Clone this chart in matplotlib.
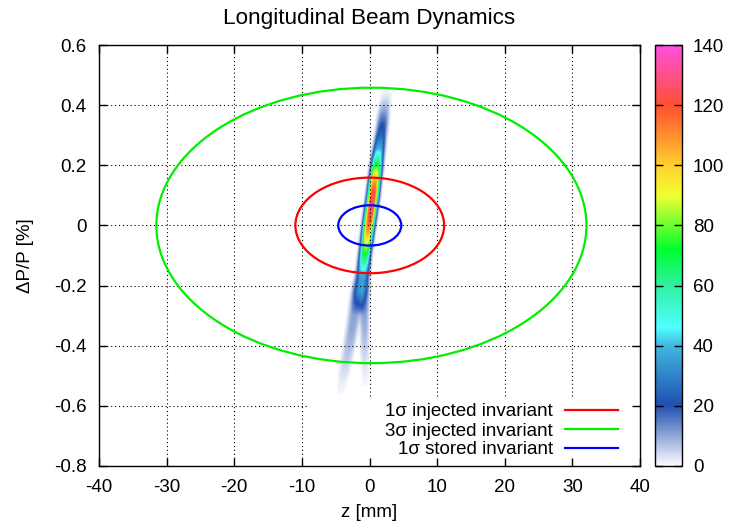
import numpy as np
import matplotlib
matplotlib.use("Agg")
import matplotlib.pyplot as plt
from matplotlib.patches import Ellipse, Rectangle
from matplotlib.colors import LinearSegmentedColormap
from matplotlib.ticker import FuncFormatter

plt.rcParams['font.family'] = ['Liberation Sans', 'DejaVu Sans']
plt.rcParams['font.size'] = 13.5
plt.rcParams['axes.unicode_minus'] = False

# invariant ellipses: (centre z [mm], half width z [mm], half height dP/P [%])
inv_labels = ['1\u03c3 injected invariant', '3\u03c3 injected invariant', '1\u03c3 stored invariant']
inv_colors = ['#ff0000', '#00ee00', '#0000ff']
inv_z0 = [0.04, 0.28, 0.04]
inv_a = [11.0, 31.8, 4.66]
inv_b = [0.159, 0.458, 0.067]

main_dp = [0.46, 0.42, 0.38, 0.34, 0.30, 0.26, 0.22, 0.18, 0.14, 0.10, 0.06, 0.02,
           -0.02, -0.06, -0.10, -0.14, -0.18, -0.22, -0.26, -0.30]
main_z = [2.6, 2.4, 2.15, 1.95, 1.7, 1.45, 1.2, 0.98, 0.75, 0.55, 0.3, 0.05,
          -0.2, -0.42, -0.65, -0.85, -1.05, -1.25, -1.45, -1.6]
main_peak = [0, 4, 11, 19, 25, 38, 60, 90, 112, 124, 126, 120,
             108, 88, 70, 50, 30, 22, 10, 0]
main_hw = [0.8, 0.8, 0.8, 0.8, 0.8, 0.8, 0.8, 0.8, 0.8, 0.8, 0.8, 0.8,
           0.8, 0.8, 0.8, 0.85, 0.95, 1.05, 1.1, 1.1]

left_dp = [-0.16, -0.22, -0.28, -0.34, -0.40, -0.46, -0.52, -0.58]
left_z = [-1.3, -1.65, -2.05, -2.5, -2.95, -3.45, -3.95, -4.4]
left_peak = [0, 10, 11, 10, 8, 5, 2, 0]
left_hw = [0.9, 0.9, 0.9, 0.85, 0.8, 0.8, 0.75, 0.7]

right_dp = [-0.16, -0.22, -0.28, -0.34, -0.40, -0.46, -0.52, -0.56]
right_z = [-0.7, -0.72, -0.72, -0.7, -0.68, -0.64, -0.6, -0.58]
right_peak = [0, 8, 11, 9, 6, 3, 1, 0]
right_hw = [0.7, 0.7, 0.65, 0.6, 0.6, 0.6, 0.6, 0.6]

cb_ticks = [0, 20, 40, 60, 80, 100, 120, 140]

# colour palette
pal_pos = [0.0, 20/140, 40/140, 46/140, 60/140, 72/140, 90/140, 100/140, 120/140, 1.0]
pal_col = ['#fbfbff', '#1f4fb0', '#40b8e0', '#50ffff', '#30f0a0', '#00ff30',
           '#f0ff30', '#ffd030', '#ff5030', '#ff50e0']
cmap = LinearSegmentedColormap.from_list('beam', list(zip(pal_pos, pal_col)))
cmap.set_bad((1, 1, 1, 0))

# density grid
zz = np.linspace(-8, 6, 561)
pp = np.linspace(-0.7, 0.55, 313)
Z, P = np.meshgrid(zz, pp)
dens = np.zeros_like(Z)
for bdp, bz, bpk, bhw in [(main_dp, main_z, main_peak, main_hw),
                          (left_dp, left_z, left_peak, left_hw),
                          (right_dp, right_z, right_peak, right_hw)]:
    xp = np.array(bdp)[::-1]
    zc = np.interp(P, xp, np.array(bz)[::-1])
    pk = np.interp(P, xp, np.array(bpk)[::-1], left=0, right=0)
    hw = np.interp(P, xp, np.array(bhw)[::-1])
    dens += pk * np.exp(-np.abs((Z - zc) / hw) ** 3)
dens = np.ma.masked_less(dens, 0.6)

fig = plt.figure(figsize=(7.31, 5.26), dpi=100)
pos = [99/731, 1 - 466/526, 541/731, 421/526]
ax = fig.add_axes(pos)

im = ax.imshow(dens, extent=[zz[0], zz[-1], pp[0], pp[-1]], origin='lower',
               aspect='auto', cmap=cmap, vmin=0, vmax=140, interpolation='bilinear', zorder=0)

for lab, c, z0, a, b in zip(inv_labels, inv_colors, inv_z0, inv_a, inv_b):
    ax.add_patch(Ellipse((z0, 0), 2*a, 2*b, fill=False, edgecolor=c, lw=1.6, zorder=3))
    ax.plot([], [], color=c, lw=1.6, label=lab)

ax.set_xlim(-40, 40)
ax.set_ylim(-0.8, 0.6)
ax.set_xticks(range(-40, 41, 10))
ax.set_yticks(np.arange(-0.8, 0.61, 0.2))
ax.yaxis.set_major_formatter(FuncFormatter(lambda v, p: '%g' % (round(v, 2) + 0.0)))
ax.grid(True, color='black', linestyle=(0, (1, 2.5)), linewidth=0.8)
ax.set_axisbelow(False)
ax.tick_params(length=0, pad=9)
for s in ax.spines.values():
    s.set_visible(False)

# opaque key area
ax.add_patch(Rectangle((0.386, 0), 0.614, 0.165, transform=ax.transAxes,
                       facecolor='white', edgecolor='none', zorder=4))
leg = ax.legend(loc='lower right', frameon=False, markerfirst=False,
                handlelength=2.85, handletextpad=0.65, labelspacing=0.1,
                borderaxespad=0.1, borderpad=0.3, bbox_to_anchor=(0.974, 0.0))
leg.set_zorder(5)
for t in leg.get_texts():
    t.set_ha('right')

ax.set_xlabel('z [mm]', labelpad=6)
ax.set_ylabel('\u0394P/P [%]', labelpad=14)
ax.set_title('Longitudinal Beam Dynamics', pad=15)

# frame and tics on top
ax2 = fig.add_axes(pos, sharex=ax, sharey=ax, facecolor='none')
ax2.tick_params(direction='in', length=6, top=True, right=True,
                labelbottom=False, labelleft=False, width=1)
for s in ax2.spines.values():
    s.set_linewidth(1)

cax = fig.add_axes([654.5/731, 1 - 466/526, 27.5/731, 421/526])
cb = fig.colorbar(im, cax=cax, ticks=cb_ticks)
cb.outline.set_linewidth(1)
cax.tick_params(direction='in', length=6, left=True, right=True, width=1, pad=8)

fig.savefig('out.png', dpi=100)
